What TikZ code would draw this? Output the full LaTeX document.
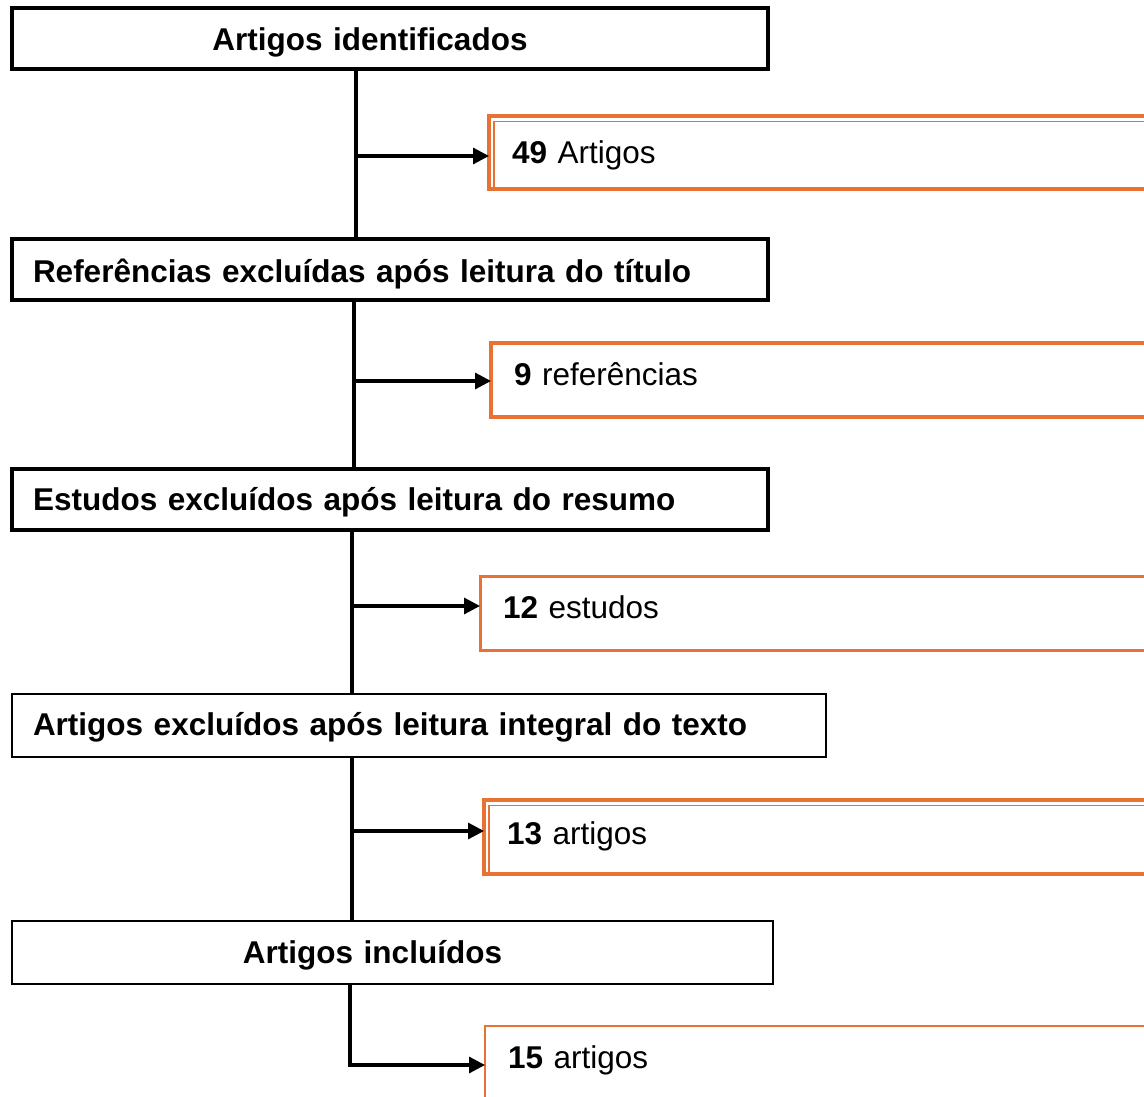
\documentclass[tikz,border=0pt]{standalone}
\usepackage{fontspec}
\setmainfont{Liberation Sans}
\usetikzlibrary{arrows.meta}
\definecolor{oboxc}{RGB}{232,113,51}
\begin{document}
\begin{tikzpicture}[x=1pt,y=-1pt,
  every node/.style={font=\fontsize{31.5}{38}\selectfont, inner sep=0pt, outer sep=0pt,
    text height=24pt, text depth=0pt},
  blackbox/.style={draw=black, line width=3.4pt, anchor=north west, minimum height=61pt},
  boxleft/.style={blackbox, align=left, inner xsep=21pt},
  obox/.style={draw=oboxc, line width=3.6pt, anchor=north west, minimum height=73pt,
    align=left, inner xsep=23pt, text width=700pt},
  innerline/.style={draw=oboxc, line width=1.5pt},
  trunk/.style={line width=3.2pt, black},
  arr/.style={line width=3.2pt, black, -{Triangle[length=16pt,width=16pt]}}
]
\clip (0,0) rectangle (1144,1097);

% main boxes
\node[blackbox, text width=756pt, align=center] (b1) at (12,8)
  {\mbox{\textbf{Artigos identificados}\hspace*{40pt}}};
\node[boxleft, text width=714pt] (b2) at (12,239)
  {\raisebox{-1pt}{\textbf{Referências excluídas após leitura do título}}};
\node[boxleft, text width=714pt] (b3) at (12,469)
  {\raisebox{1pt}{\textbf{Estudos excluídos após leitura do resumo}}};
\node[boxleft, text width=772pt, line width=2pt, minimum height=63pt] (b4) at (12,694)
  {\raisebox{2pt}{\textbf{Artigos excluídos após leitura integral do texto}}};
\node[blackbox, text width=761pt, align=center, line width=2.6pt, minimum height=63pt] (b5) at (12,921)
  {\mbox{\raisebox{1pt}{\textbf{Artigos incluídos}}\hspace*{40pt}}};

% side boxes
\node[obox] (o1) at (489,116) {\raisebox{1pt}{\textbf{49} Artigos}};
\draw[innerline] ([xshift=5pt,yshift=2pt]o1.south west) |- ([yshift=-5.5pt]o1.north east);
\node[obox, line width=3.2pt, minimum height=74pt] (o2) at (491,343) {\raisebox{6.5pt}{\textbf{9} referências}};
\node[obox, line width=3pt, minimum height=74pt] (o3) at (480,576) {\raisebox{6.5pt}{\textbf{12} estudos}};
\node[obox, minimum height=74pt] (o4) at (484,800) {\raisebox{4.5pt}{\textbf{13} artigos}};
\draw[innerline] ([xshift=5pt,yshift=2pt]o4.south west) |- ([yshift=-5.5pt]o4.north east);
\node[obox, line width=1.6pt, minimum height=90pt] (o5) at (485,1026) {\raisebox{14.5pt}{\textbf{15} artigos}};

% connectors
\coordinate (t1) at (356,156);
\coordinate (t2) at (354,381);
\coordinate (t3) at (352,606);
\coordinate (t4) at (352,831);
\coordinate (t5) at (350,1065);

\draw[trunk] (b1.south -| t1) -- (b2.north -| t1);
\draw[trunk] (b2.south -| t2) -- (b3.north -| t2);
\draw[trunk] (b3.south -| t3) -- (b4.north -| t3);
\draw[trunk] (b4.south -| t4) -- (b5.north -| t4);
\draw[trunk] (b5.south -| t5) -- ([yshift=-2pt]t5);

\draw[arr] (t1) -- (t1 -| o1.west);
\draw[arr] (t2) -- (t2 -| o2.west);
\draw[arr] (t3) -- (t3 -| o3.west);
\draw[arr] (t4) -- (t4 -| o4.west);
\draw[arr] (t5) -- (t5 -| o5.west);
\end{tikzpicture}
\end{document}
